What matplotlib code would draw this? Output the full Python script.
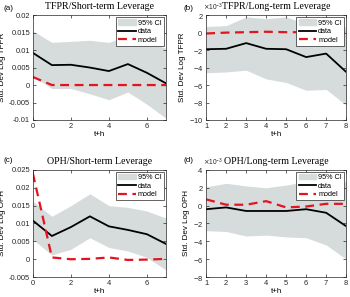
import matplotlib
matplotlib.use("Agg")
import matplotlib.pyplot as plt
from matplotlib.ticker import FuncFormatter, ScalarFormatter
from matplotlib.patches import Patch
from matplotlib.lines import Line2D

plt.rcParams['font.family'] = 'Liberation Sans'

# horizons
h_short = [0, 1, 2, 3, 4, 5, 6, 7]
h_long = [1, 2, 3, 4, 5, 6, 7, 8]

# (a) TFPR / short-term leverage
a_data = [0.0092, 0.0057, 0.0058, 0.0050, 0.0040, 0.0060, 0.0035, 0.0005]
a_hi = [0.0155, 0.0122, 0.0125, 0.0128, 0.0122, 0.0142, 0.0125, 0.0105]
a_lo = [0.0025, -0.0010, -0.0010, -0.0025, -0.0042, -0.0020, -0.0055, -0.0095]
a_model = [0.0023, 0.0, 0.0, 0.0, 0.0, 0.0, 0.0, 0.0]

# (b) TFPR / long-term leverage
b_data = [-0.0019, -0.00185, -0.0012, -0.00185, -0.0019, -0.0028, -0.0024, -0.0045]
b_hi = [0.0007, 0.0008, 0.0018, 0.0016, 0.0018, 0.0010, 0.0012, 0.0006]
b_lo = [-0.0046, -0.0045, -0.0043, -0.0053, -0.0057, -0.0066, -0.0065, -0.0083]
b_model = [-0.0001, 0.0, 0.00005, 0.0001, 0.00005, 0.00005, 0.00005, 0.00005]

# (c) OPH / short-term leverage
c_data = [0.0108, 0.0065, 0.0090, 0.0120, 0.0092, 0.0082, 0.0070, 0.0043]
c_hi = [0.0162, 0.0120, 0.0150, 0.0183, 0.0150, 0.0145, 0.0135, 0.0115]
c_lo = [0.0055, 0.0012, 0.0028, 0.0060, 0.0033, 0.0023, 0.0005, -0.0030]
c_model = [0.0240, 0.0005, 0.0, 0.0001, 0.0005, -0.0002, -0.0001, 0.0001]

# (d) OPH / long-term leverage
d_data = [-0.0004, -0.0002, -0.0006, -0.0006, -0.0006, -0.0004, -0.0008, -0.0023]
d_hi = [0.0021, 0.0025, 0.0022, 0.0020, 0.0023, 0.0027, 0.0030, 0.0027]
d_lo = [-0.0028, -0.0029, -0.0034, -0.0033, -0.0035, -0.0036, -0.0044, -0.0060]
d_model = [0.0007, 0.0001, 0.0001, 0.0005, -0.0002, -0.0001, 0.0002, 0.0002]

fill_c = '#d5dcdb'
red = '#e3141f'

fig = plt.figure(figsize=(3.5, 2.97), dpi=100)

panels = [
    ("(a)", "TFPR/Short-term Leverage", "Std. Dev Log TFPR", h_short, a_data, a_hi, a_lo, a_model,
     [0.094, 0.596, 0.380, 0.353], (-0.01, 0.02), 0.005, [0, 2, 4, 6], False, (3, 10)),
    ("(b)", "TFPR/Long-term Leverage", "Std. Dev Log TFPR", h_long, b_data, b_hi, b_lo, b_model,
     [0.589, 0.596, 0.400, 0.353], (-0.010, 0.002), 0.002, h_long, True, (183, 10)),
    ("(c)", "OPH/Short-term Leverage", "Std. Dev Log OPH", h_short, c_data, c_hi, c_lo, c_model,
     [0.094, 0.067, 0.380, 0.361], (-0.005, 0.025), 0.005, [0, 2, 4, 6], False, (3, 162)),
    ("(d)", "OPH/Long-term Leverage", "Std. Dev Log OPH", h_long, d_data, d_hi, d_lo, d_model,
     [0.589, 0.067, 0.400, 0.361], (-0.008, 0.004), 0.002, h_long, True, (183, 162)),
]

for lab, title, ylab, x, dat, hi, lo, mod, rect, ylim, ystep, xt, sci, lpos in panels:
    ax = fig.add_axes(rect)
    ax.fill_between(x, lo, hi, color=fill_c, lw=0)
    ax.plot(x, dat, color='black', lw=1.3)
    ax.plot(x, mod, color=red, lw=1.6, ls=(0, (4, 2.5)))
    ax.set_xlim(x[0], x[-1])
    ax.set_ylim(*ylim)
    n = int(round((ylim[1] - ylim[0]) / ystep))
    ax.set_yticks([ylim[0] + i * ystep for i in range(n + 1)])
    ax.set_xticks(xt)
    if sci:
        fmt = ScalarFormatter(useMathText=True)
        fmt.set_powerlimits((-3, -3))
        ax.yaxis.set_major_formatter(fmt)
        ax.yaxis.get_offset_text().set_fontsize(4.8)
        ax.yaxis.get_offset_text().set_x(-0.025)
    else:
        ax.yaxis.set_major_formatter(FuncFormatter(lambda v, p: "%g" % round(v, 4)))
    ax.tick_params(direction='in', top=True, right=True, labelsize=5.4,
                   length=2.5, width=0.5, pad=2, colors='#262626')
    for s in ax.spines.values():
        s.set_linewidth(0.5)
        s.set_color('#262626')
    ax.set_xlabel("t+h", fontsize=5.8, labelpad=1)
    ax.set_ylabel(ylab, fontsize=5.8, labelpad=2)
    ax.set_title(title, fontsize=7.1, family='Liberation Serif', pad=4.5, y=1.0)
    fig.text(lpos[0] / 350, 1 - lpos[1] / 297, lab, fontsize=5.8,
             va='baseline', ha='left')
    handles = [Patch(color=fill_c), Line2D([], [], color='black', lw=1.3),
               Line2D([], [], color=red, lw=1.6, ls=(0, (4, 2.5)))]
    leg = ax.legend(handles, ["95% CI", "data", "model"], loc='upper right',
                    fontsize=5.2, handlelength=2.4, handletextpad=0.3,
                    borderpad=0.3, labelspacing=0.2, fancybox=False,
                    framealpha=1, borderaxespad=0.3)
    leg.get_frame().set_linewidth(0.5)
    leg.get_frame().set_edgecolor('#262626')

fig.savefig("out.png", dpi=100)
